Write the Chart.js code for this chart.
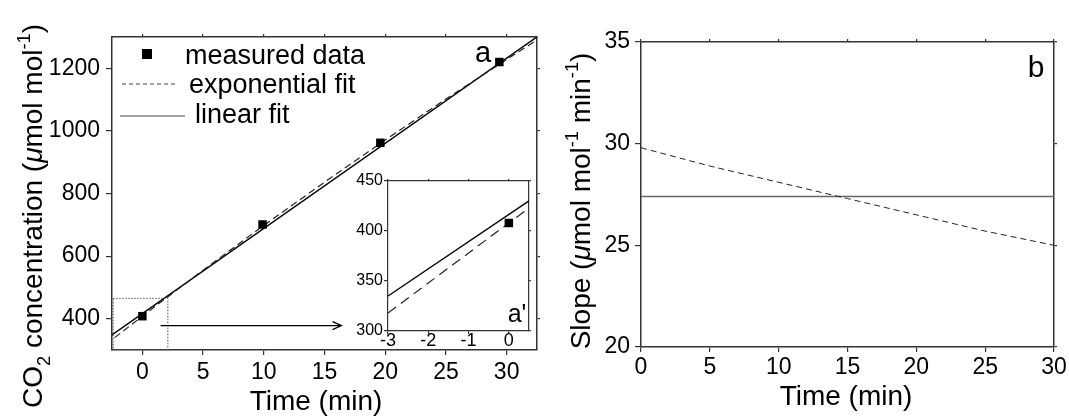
<!DOCTYPE html>
<html>
<head>
<meta charset="utf-8">
<script src="https://cdn.jsdelivr.net/npm/chart.js@4.4.1/dist/chart.umd.min.js"></script>
<style>
  html, body { margin: 0; padding: 0; background: #fff; }
  #wrap { position: relative; width: 1069px; height: 419px; overflow: hidden; }
  canvas { position: absolute; }
  #chartA { left: 0; top: 0; }
  #chartB { left: 560px; top: 0; }
  #chartInset { left: 340px; top: 170px; }
</style>
</head>
<body>
<div id="wrap">
  <canvas id="chartA" width="560" height="419"></canvas>
  <canvas id="chartB" width="509" height="419"></canvas>
  <canvas id="chartInset" width="195" height="185"></canvas>
</div>
<script>
// panel a: measured CO2 (µmol mol-1) against time (min)
const measuredTime = [0, 9.9, 19.6, 29.4];
const measuredCO2 = [408, 701, 962, 1220];

// exponential fit
const expTime = [-3, -2.5, 0, 0.5, 5, 10, 15, 20, 25, 30, 33];
const expCO2 = [318, 333, 408, 423, 555, 698, 836, 971, 1102, 1228, 1303];

// linear fit (straight line, end points)
const linTime = [-3, 33];
const linCO2 = [335, 1314];

// panel b: slope of each fit (µmol mol-1 min-1)
const slopeTime = [0, 5, 10, 15, 20, 25, 30];
const slopeExp = [29.8, 28.9, 28.1, 27.3, 26.5, 25.7, 25.0];
const slopeLinTime = [0, 30];
const slopeLin = [27.4, 27.4];

// tick labels
const xTicksA = [0, 5, 10, 15, 20, 25, 30];
const yTicksA = [400, 600, 800, 1000, 1200];
const xTicksInset = [-3, -2, -1, 0];
const yTicksInset = [300, 350, 400, 450];
const xTicksB = [0, 5, 10, 15, 20, 25, 30];
const yTicksB = [20, 25, 30, 35];

// zoom box and arrow in panel a (data units)
const zoomBoxX = [-2.4, 2.1];
const zoomBoxY = [301, 465];
const arrowX = [1.5, 16.4];
const arrowY = [378, 378];

const labels = ['measured data', 'exponential fit', 'linear fit'];

const FONT = "'Liberation Sans', Arial, Helvetica, sans-serif";
const AXIS = '#333';

const pts = (xs, ys) => xs.map((x, i) => ({ x: x, y: ys[i] }));
const setTicks = arr => s => { s.ticks = arr.map(v => ({ value: v })); };

function scaleOpts(pos, min, max, ticks, size, opts) {
  return {
    type: 'linear',
    position: pos,
    min: min,
    max: max,
    afterBuildTicks: setTicks(ticks),
    afterFit: s => { if (pos === 'left' || pos === 'right') s.width = size; else s.height = size; },
    border: { display: true, color: AXIS, width: opts.bw || 1.5 },
    grid: { drawOnChartArea: false, color: AXIS, tickColor: AXIS, tickLength: opts.tl, lineWidth: 1.2 },
    ticks: {
      display: !!opts.labels,
      color: '#000',
      padding: opts.pad || 0,
      font: { family: FONT, size: opts.fs || 23 },
      callback: v => String(v)
    }
  };
}

// text with sub/superscript parts, [text, shift] with shift -1 sub, 1 sup
function richWidth(ctx, parts, size) {
  let w = 0;
  parts.forEach(p => {
    const s = p[1] ? size * 0.65 : size;
    ctx.font = (p[2] ? 'italic ' : '') + s + 'px ' + FONT;
    w += ctx.measureText(p[0]).width;
  });
  return w;
}
function drawRich(ctx, parts, x, y, size, rotate) {
  ctx.save();
  ctx.translate(x, y);
  if (rotate) ctx.rotate(-Math.PI / 2);
  let cx = -richWidth(ctx, parts, size) / 2;
  ctx.fillStyle = '#000';
  ctx.textBaseline = 'alphabetic';
  ctx.textAlign = 'left';
  parts.forEach(p => {
    const s = p[1] ? size * 0.65 : size;
    ctx.font = (p[2] ? 'italic ' : '') + s + 'px ' + FONT;
    const dy = p[1] === -1 ? size * 0.28 : p[1] === 1 ? -size * 0.42 : 0;
    ctx.fillText(p[0], cx, dy);
    cx += ctx.measureText(p[0]).width;
  });
  ctx.restore();
}

function text(ctx, t, x, y, size, align) {
  ctx.save();
  ctx.font = size + 'px ' + FONT;
  ctx.fillStyle = '#000';
  ctx.textAlign = align || 'center';
  ctx.textBaseline = 'alphabetic';
  ctx.fillText(t, x, y);
  ctx.restore();
}

const panelA = {
  id: 'panelA',
  afterDraw(chart) {
    const ctx = chart.ctx, xs = chart.scales.x, ys = chart.scales.y, a = chart.chartArea;
    // dotted zoom box
    ctx.save();
    ctx.strokeStyle = '#555';
    ctx.lineWidth = 1;
    ctx.setLineDash([1.5, 1.5]);
    const bx0 = xs.getPixelForValue(zoomBoxX[0]), bx1 = xs.getPixelForValue(zoomBoxX[1]);
    const by0 = ys.getPixelForValue(zoomBoxY[0]), by1 = ys.getPixelForValue(zoomBoxY[1]);
    ctx.strokeRect(bx0, by1, bx1 - bx0, by0 - by1);
    ctx.restore();
    // arrow to the inset
    ctx.save();
    ctx.strokeStyle = '#000';
    ctx.lineWidth = 1.2;
    const ax0 = xs.getPixelForValue(arrowX[0]), ax1 = xs.getPixelForValue(arrowX[1]);
    const ay = ys.getPixelForValue(arrowY[0]);
    ctx.beginPath();
    ctx.moveTo(ax0, ay); ctx.lineTo(ax1, ay);
    ctx.moveTo(ax1 - 9, ay - 4); ctx.lineTo(ax1, ay); ctx.lineTo(ax1 - 9, ay + 4);
    ctx.stroke();
    ctx.restore();

    // legend inside the plot
    ctx.save();
    ctx.fillStyle = '#000';
    ctx.fillRect(142, 49, 10, 10);
    ctx.strokeStyle = '#444';
    ctx.lineWidth = 1;
    ctx.setLineDash([4, 3]);
    ctx.beginPath(); ctx.moveTo(122, 84); ctx.lineTo(176, 84); ctx.stroke();
    ctx.setLineDash([]);
    ctx.beginPath(); ctx.moveTo(120, 116); ctx.lineTo(185, 116); ctx.stroke();
    ctx.restore();
    text(ctx, labels[0], 185, 64, 27, 'left');
    text(ctx, labels[1], 189, 93, 27, 'left');
    text(ctx, labels[2], 195, 123, 27, 'left');

    text(ctx, 'a', a.right - 54, a.top + 25, 29);
    text(ctx, 'Time (min)', 316, 410, 28);
    drawRich(ctx, [['CO', 0], ['2', -1], [' concentration (', 0], ['\u03bc', 0, true], ['mol mol', 0], ['-1', 1], [')', 0]],
      42, 216, 28, true);
  }
};

const panelB = {
  id: 'panelB',
  afterDraw(chart) {
    const ctx = chart.ctx, a = chart.chartArea;
    text(ctx, 'b', a.right - 18, a.top + 35, 30);
    text(ctx, 'Time (min)', 286, 405, 28);
    drawRich(ctx, [['Slope (', 0], ['\u03bc', 0, true], ['mol mol', 0], ['-1', 1], [' min', 0], ['-1', 1], [')', 0]],
      30, 201, 28, true);
  }
};

const insetBg = {
  id: 'insetBg',
  beforeDraw(chart) {
    const a = chart.chartArea, ctx = chart.ctx;
    ctx.save();
    ctx.fillStyle = '#fff';
    ctx.fillRect(a.left, a.top, a.right - a.left, a.bottom - a.top);
    ctx.restore();
  },
  afterDraw(chart) {
    const a = chart.chartArea;
    text(chart.ctx, "a'", a.right - 12, a.bottom - 9, 25);
  }
};

function fitSets(dash, w) {
  return [
    {
      label: labels[0],
      data: pts(measuredTime, measuredCO2),
      pointStyle: 'rect',
      pointRadius: 6,
      backgroundColor: '#000',
      borderColor: '#000',
      borderWidth: 0
    },
    {
      label: labels[1],
      data: pts(expTime, expCO2),
      showLine: true,
      pointRadius: 0,
      borderColor: '#222',
      borderWidth: w,
      borderDash: dash
    },
    {
      label: labels[2],
      data: pts(linTime, linCO2),
      showLine: true,
      pointRadius: 0,
      borderColor: '#000',
      borderWidth: w + 0.2
    }
  ];
}

const common = {
  responsive: false,
  animation: false,
  events: [],
  layout: { padding: 0 },
  plugins: { legend: { display: false }, tooltip: { enabled: false } }
};

new Chart(document.getElementById('chartA'), {
  type: 'scatter',
  data: { datasets: fitSets([7, 4], 1.2) },
  options: Object.assign({}, common, {
    scales: {
      x: scaleOpts('bottom', -2.5, 32.5, xTicksA, 69, { tl: 5, labels: true, pad: 4 }),
      y: scaleOpts('left', 300, 1300, yTicksA, 112, { tl: 6, labels: true, pad: 6 }),
      x2: scaleOpts('top', -2.5, 32.5, xTicksA, 37, { tl: 3 }),
      y2: scaleOpts('right', 300, 1300, yTicksA, 23, { tl: 3 })
    }
  }),
  plugins: [panelA]
});

new Chart(document.getElementById('chartInset'), {
  type: 'scatter',
  data: { datasets: fitSets([10, 6], 1.2) },
  options: Object.assign({}, common, {
    scales: {
      x: scaleOpts('bottom', -3, 0.5, xTicksInset, 24, { tl: 3, labels: true, pad: -4, fs: 18, bw: 1.2 }),
      y: scaleOpts('left', 300, 450, yTicksInset, 48, { tl: 4, labels: true, pad: 1, fs: 16, bw: 1.2 }),
      x2: scaleOpts('top', -3, 0.5, xTicksInset, 11, { tl: 2, bw: 1.2 }),
      y2: scaleOpts('right', 300, 450, yTicksInset, 6, { tl: 2, bw: 1.2 })
    }
  }),
  plugins: [insetBg]
});

new Chart(document.getElementById('chartB'), {
  type: 'scatter',
  data: {
    datasets: [
      {
        label: 'exponential fit',
        data: pts(slopeTime, slopeExp),
        showLine: true,
        pointRadius: 0,
        borderColor: '#222',
        borderWidth: 1,
        borderDash: [6, 4]
      },
      {
        label: 'linear fit',
        data: pts(slopeLinTime, slopeLin),
        showLine: true,
        pointRadius: 0,
        borderColor: '#666',
        borderWidth: 1.6
      }
    ]
  },
  options: Object.assign({}, common, {
    scales: {
      x: scaleOpts('bottom', 0, 30, xTicksB, 72, { tl: 5, labels: true, pad: 2 }),
      y: scaleOpts('left', 20, 35, yTicksB, 81, { tl: 6, labels: true, pad: 5 }),
      x2: scaleOpts('top', 0, 30, xTicksB, 42, { tl: 3 }),
      y2: scaleOpts('right', 20, 35, yTicksB, 15, { tl: 3 })
    }
  }),
  plugins: [panelB]
});
</script>
</body>
</html>
